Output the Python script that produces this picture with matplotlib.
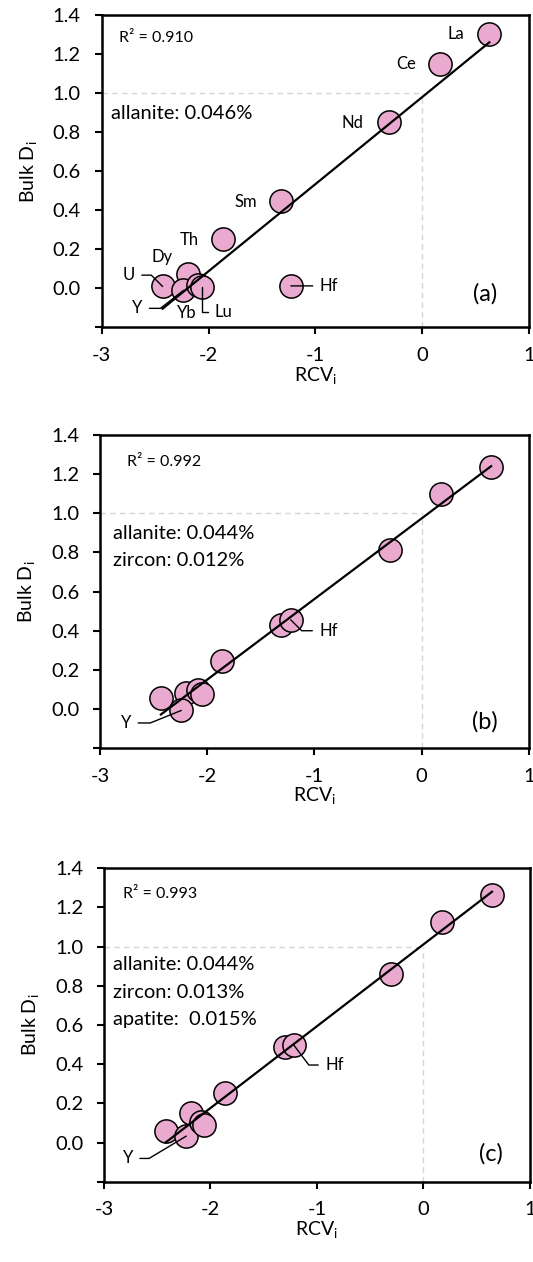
import numpy as np
import matplotlib
matplotlib.use('Agg')
import matplotlib.pyplot as plt

plt.rcParams['font.family'] = ['Lato', 'DejaVu Sans']
plt.rcParams['mathtext.fontset'] = 'custom'
plt.rcParams['mathtext.rm'] = 'Lato'

# element order is the same in every panel
elements = ['La', 'Ce', 'Nd', 'Sm', 'Th', 'Hf', 'Dy', 'U', 'Y', 'Yb', 'Lu']

rcv_a = [0.629, 0.167, -0.311, -1.317, -1.867, -1.229, -2.19, -2.43, -2.235, -2.10, -2.063]
bulk_a = [1.303, 1.147, 0.850, 0.449, 0.251, 0.013, 0.075, 0.010, -0.010, 0.020, 0.005]

rcv_b = [0.647, 0.183, -0.300, -1.311, -1.863, -1.222, -2.201, -2.432, -2.242, -2.084, -2.053]
bulk_b = [1.238, 1.097, 0.810, 0.430, 0.247, 0.456, 0.082, 0.056, -0.007, 0.099, 0.078]

rcv_c = [0.643, 0.175, -0.302, -1.298, -1.861, -1.218, -2.179, -2.421, -2.227, -2.093, -2.061]
bulk_c = [1.264, 1.123, 0.859, 0.490, 0.255, 0.498, 0.150, 0.060, 0.034, 0.107, 0.090]

r2_a = 'R² = 0.910'
r2_b = 'R² = 0.992'
r2_c = 'R² = 0.993'

minerals_a = ['allanite: 0.046%']
minerals_b = ['allanite: 0.044%', 'zircon: 0.012%']
minerals_c = ['allanite: 0.044%', 'zircon: 0.013%', 'apatite:  0.015%']

# labels without leader: name -> text centre
plain_a = {'La': (0.317, 1.303), 'Ce': (-0.149, 1.147), 'Nd': (-0.651, 0.845),
           'Sm': (-1.651, 0.444), 'Th': (-2.184, 0.248), 'Dy': (-2.435, 0.162),
           'Yb': (-2.206, -0.125)}
# labels with leader: name -> (text x, text y, angle of leader at point)
lead_a = {'U': (-2.746, 0.068, -45), 'Y': (-2.667, -0.102, 38),
          'Lu': (-1.857, -0.120, 90), 'Hf': (-0.873, 0.013, None)}
lead_b = {'Hf': (-0.869, 0.400, -45), 'Y': (-2.757, -0.071, 22)}
lead_c = {'Hf': (-0.836, 0.396, -53), 'Y': (-2.777, -0.080, 31)}

panels = [
    dict(rcv=rcv_a, bulk=bulk_a, r2=r2_a, r2pos=(-2.84, 1.280), minerals=minerals_a,
         minpos=(-2.911, 0.896), plain=plain_a, lead=lead_a, letter='(a)',
         letpos=(0.587, -0.026), rect=[0.1908, 0.7405, 0.8017, 0.2476]),
    dict(rcv=rcv_b, bulk=bulk_b, r2=r2_b, r2pos=(-2.747, 1.259), minerals=minerals_b,
         minpos=(-2.88, 0.898), plain={}, lead=lead_b, letter='(b)',
         letpos=(0.584, -0.063), rect=[0.1876, 0.4071, 0.8049, 0.2483]),
    dict(rcv=rcv_c, bulk=bulk_c, r2=r2_c, r2pos=(-2.819, 1.269), minerals=minerals_c,
         minpos=(-2.911, 0.907), plain={}, lead=lead_c, letter='(c)',
         letpos=(0.637, -0.054), rect=[0.1951, 0.0634, 0.7992, 0.2488]),
]

fig = plt.figure(figsize=(5.33, 12.62), dpi=100)

for p in panels:
    ax = fig.add_axes(p['rect'])
    x = np.array(p['rcv'])
    y = np.array(p['bulk'])

    ax.set_xlim(-3, 1)
    ax.set_ylim(-0.2, 1.4)

    ax.hlines(1.0, -3, 0, colors='#d4d4d4', linestyles=(0, (4, 3)), lw=1, zorder=1)
    ax.vlines(0, -0.2, 1.0, colors='#d4d4d4', linestyles=(0, (4, 3)), lw=1, zorder=1)

    ax.scatter(x, y, s=280, c='#EAAACF', edgecolors='black', linewidths=1.1, zorder=2)

    slope, icpt = np.polyfit(x, y, 1)
    xl = np.array([x.min(), x.max()])
    ax.plot(xl, slope * xl + icpt, color='black', lw=1.6, zorder=3)

    for name, (tx, ty) in p['plain'].items():
        ax.text(tx, ty, name, ha='center', va='center', fontsize=12, zorder=5)

    for name, (tx, ty, ang) in p['lead'].items():
        i = elements.index(name)
        rel = (1, 0.5) if tx < x[i] else (0, 0.5)
        if ang is None:
            cs = 'arc3,rad=0'
        else:
            cs = 'angle,angleA=0,angleB=%g,rad=0' % ang
        ax.annotate(name, xy=(x[i], y[i]), xytext=(tx, ty), ha='center', va='center',
                    fontsize=12, zorder=5,
                    arrowprops=dict(arrowstyle='-', lw=1, color='black', shrinkA=3,
                                    shrinkB=0, relpos=rel, connectionstyle=cs))

    ax.text(p['r2pos'][0], p['r2pos'][1], p['r2'], ha='left', va='center', fontsize=11.5)
    mx, my = p['minpos']
    for k, line in enumerate(p['minerals']):
        ax.text(mx, my - k * 0.139, line, ha='left', va='center', fontsize=14.5)

    ax.text(p['letpos'][0], p['letpos'][1], p['letter'], ha='center', va='center',
            fontsize=17)

    ax.set_xticks([-3, -2, -1, 0, 1])
    ax.set_xticklabels(['-3', '-2', '-1', '0', '1'])
    yt = [-0.2, 0.0, 0.2, 0.4, 0.6, 0.8, 1.0, 1.2, 1.4]
    ax.set_yticks(yt)
    ax.set_yticklabels([''] + ['%.1f' % v for v in yt[1:]])
    ax.tick_params(direction='out', length=5, width=1.5, labelsize=14.5)
    ax.tick_params(axis='x', pad=9)
    ax.tick_params(axis='y', pad=10)
    for sp in ax.spines.values():
        sp.set_linewidth(1.8)

    ax.set_xlabel(r'RCV$_\mathregular{i}$', fontsize=14, labelpad=1)
    ax.set_ylabel(r'Bulk D$_\mathregular{i}$', fontsize=14, labelpad=9)

fig.savefig('out.png', dpi=100)
